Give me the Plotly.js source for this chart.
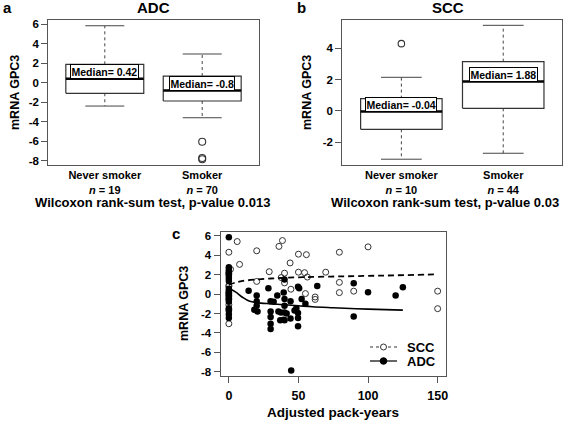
<!DOCTYPE html>
<html><head><meta charset="utf-8">
<script src="https://cdn.plot.ly/plotly-3.0.1.min.js"></script>
<style>html,body{margin:0;padding:0;background:#fff}#chart{width:565px;height:421px}</style>
</head><body><div id="chart"></div>
<script>
// ---------- Data ----------
const categories = ['Never smoker', 'Smoker'];
const adcN = [19, 70];
const sccN = [10, 44];
// Panel a: ADC box statistics
const adcLower = [-2.39, -3.59];
const adcQ1 = [-1.08, -1.87];
const adcMedian = [0.42, -0.8];
const adcQ3 = [1.89, 0.69];
const adcUpper = [5.85, 2.95];
const adcOutlierGroup = [2, 2, 2];
const adcOutlierValue = [-6.05, -7.72, -7.85];
// Panel b: SCC box statistics
const sccLower = [-3.08, -2.7];
const sccQ1 = [-1.17, 0.17];
const sccMedian = [-0.04, 1.88];
const sccQ3 = [0.79, 3.15];
const sccUpper = [2.15, 5.47];
const sccOutlierGroup = [1];
const sccOutlierValue = [4.3];
// Tick labels
const adcTicks = [-8, -6, -4, -2, 0, 2, 4, 6];
const sccTicks = [-2, 0, 2, 4];
const packTicks = [0, 50, 100, 150];
// Panel c: scatter of expression vs adjusted pack-years
const sccPackYears = [0, 0, 0, 0, 0, 0, 0, 0, 0, 0,
  1.2, 6, 7.7, 20, 20, 29, 36, 38.5, 37.6, 40, 40, 44, 44.6, 50, 50, 54.4, 55.7, 56.4, 55,
  62, 62, 69.6, 79.4, 79.4, 79.4, 89.7, 100, 150, 150];
const sccExpr = [4.3, 2.15, 0.9, 0.79, 0.1, -0.18, -0.5, -1.1, -1.6, -3.05,
  2.55, 5.4, 3.05, 4.45, 1.3, 2.3, 4.9, 5.5, 1.7, 2.15, 1.15, 3.2, 0.5, 4.1, 2.25, 2.2, 4.05, 1.75, 0.05,
  -0.3, -0.55, 2.25, 4.3, 1.2, 0.15, 0.3, 4.85, 0.3, -1.5];
const adcPackYears = [0, 0, 0, 0, 0, 0, 0, 0, 0, 0, 0, 0, 0, 0, 0, 0, 0, 0, 0,
  14.2, 20, 20, 20, 18.3, 20.6, 28.4, 30, 32.2, 30, 30, 30, 30, 34.8, 35.6, 37.4, 36.9, 39.4, 39.4,
  40, 40, 40, 40, 40, 41.5, 44.3, 44.3, 44.8, 47.2, 48.5, 49.7, 50.5, 49.7, 49.7, 49.7, 52.3, 55,
  63.5, 89.7, 89.7, 100, 119.8, 125];
const adcExpr = [5.85, 2.75, 2.5, 2.3, 2.05, 1.85, 1.6, 1.35, 0.55, 0.35, 0.15, -0.05, -0.3, -0.55, -0.8, -1.45, -1.75, -2.1, -2.45,
  0.33, -0.15, -0.75, -1.2, -1.6, -1.8, 0.6, -0.75, -0.8, -1.8, -2.35, -3.05, -3.6, -0.15, -1.8, -1.9, -2.7, -2.65, 0.15,
  1.5, -0.5, -1.2, -1.9, -2.7, -2.0, -0.75, -2.5, -7.85, -1.7, -1.45, 0.75, 0.6, -1.95, -2.45, -3.3, -0.5, -1.0,
  0.82, 1.1, -2.3, 0.2, -0.15, 0.7];
// Smoothed trend lines
const sccTrendX = [0, 5, 10, 20, 30, 40, 50, 60, 80, 100, 120, 150];
const sccTrendY = [0.95, 1.2, 1.35, 1.5, 1.6, 1.68, 1.72, 1.76, 1.82, 1.87, 1.93, 2.03];
const adcTrendX = [0, 5, 10, 15, 20, 30, 40, 50, 60, 75, 100, 125];
const adcTrendY = [0.6, 0.2, -0.35, -0.75, -0.88, -1.0, -1.1, -1.2, -1.3, -1.4, -1.55, -1.65];
const legendNames = ['SCC', 'ADC'];

// ---------- Helpers ----------
const FONT = 'Liberation Sans, Arial, Helvetica, sans-serif';
const W = 565, H = 421;
const px = v => v / W, py = v => 1 - v / H;
const bold = v => '<b>' + v + '</b>';

function boxTraces(xa, ya, lower, q1, med, q3, upper) {
  const tr = [];
  const hw = 0.4, sw = 0.2;
  for (let i = 0; i < med.length; i++) {
    const c = i + 1;
    const base = {xaxis: xa, yaxis: ya, mode: 'lines', showlegend: false, hoverinfo: 'skip'};
    tr.push(Object.assign({}, base, {x: [c, c, null, c, c], y: [q3[i], upper[i], null, q1[i], lower[i]],
      line: {color: '#444', width: 1, dash: '3px,3px'}}));
    tr.push(Object.assign({}, base, {x: [c - sw, c + sw, null, c - sw, c + sw], y: [upper[i], upper[i], null, lower[i], lower[i]],
      line: {color: '#444', width: 1}}));
    tr.push(Object.assign({}, base, {x: [c - hw, c + hw, c + hw, c - hw, c - hw], y: [q1[i], q1[i], q3[i], q3[i], q1[i]],
      line: {color: '#333', width: 1.2}}));
    tr.push(Object.assign({}, base, {x: [c - hw, c + hw], y: [med[i], med[i]], line: {color: '#000', width: 2.5}}));
  }
  return tr;
}

const traces = [];
traces.push(...boxTraces('x', 'y', adcLower, adcQ1, adcMedian, adcQ3, adcUpper));
traces.push({x: adcOutlierGroup, y: adcOutlierValue, xaxis: 'x', yaxis: 'y', mode: 'markers', showlegend: false,
  marker: {symbol: 'circle-open', size: 7, color: '#333', line: {width: 1.1}}});
traces.push(...boxTraces('x2', 'y2', sccLower, sccQ1, sccMedian, sccQ3, sccUpper));
traces.push({x: sccOutlierGroup, y: sccOutlierValue, xaxis: 'x2', yaxis: 'y2', mode: 'markers', showlegend: false,
  marker: {symbol: 'circle-open', size: 6.5, color: '#333', line: {width: 1.1}}});

traces.push({x: sccPackYears, y: sccExpr, xaxis: 'x3', yaxis: 'y3', mode: 'markers', name: 'SCC', showlegend: false,
  marker: {symbol: 'circle-open', size: 6, color: '#333', line: {width: 1}}});
traces.push({x: adcPackYears, y: adcExpr, xaxis: 'x3', yaxis: 'y3', mode: 'markers', name: 'ADC', showlegend: false,
  marker: {symbol: 'circle', size: 6.5, color: '#000'}});
traces.push({x: sccTrendX, y: sccTrendY, xaxis: 'x3', yaxis: 'y3', mode: 'lines', showlegend: false,
  line: {color: '#000', width: 1.8, dash: '6px,4px', shape: 'spline'}});
traces.push({x: adcTrendX, y: adcTrendY, xaxis: 'x3', yaxis: 'y3', mode: 'lines', showlegend: false,
  line: {color: '#000', width: 1.6, shape: 'spline'}});

const tickFont = {family: FONT, size: 11.5, color: '#000'};
const frame = {showline: true, mirror: true, linecolor: '#555', linewidth: 1, showgrid: false, zeroline: false, fixedrange: true};
const catText = (n) => categories.map((c, i) => bold(c) + '<br><b><i>n</i> = ' + n[i] + '</b>');

const layout = {
  width: W, height: H, margin: {l: 0, r: 0, t: 0, b: 0},
  paper_bgcolor: '#fff', plot_bgcolor: '#fff', showlegend: false,
  font: {family: FONT, color: '#000'},
  xaxis: Object.assign({}, frame, {domain: [px(48.3), px(258.7)], range: [0.42, 2.58], tickvals: [1, 2], ticktext: catText(adcN),
    ticks: '', tickfont: {family: FONT, size: 11, color: '#000'}, anchor: 'y'}),
  yaxis: Object.assign({}, frame, {domain: [py(165), py(20)], range: [-8.44, 6.44], tickvals: adcTicks, ticktext: adcTicks.map(bold),
    ticks: 'outside', ticklen: 6, tickcolor: '#555', tickfont: tickFont, anchor: 'x'}),
  xaxis2: Object.assign({}, frame, {domain: [px(342.3), px(562.3)], range: [0.42, 2.58], tickvals: [1, 2], ticktext: catText(sccN),
    ticks: '', tickfont: {family: FONT, size: 11, color: '#000'}, anchor: 'y2'}),
  yaxis2: Object.assign({}, frame, {domain: [py(165), py(20)], range: [-3.45, 5.81], tickvals: sccTicks, ticktext: sccTicks.map(bold),
    ticks: 'outside', ticklen: 6, tickcolor: '#555', tickfont: tickFont, anchor: 'x2'}),
  xaxis3: Object.assign({}, frame, {domain: [px(220.5), px(446)], range: [-6, 156], tickvals: packTicks, ticktext: packTicks.map(bold),
    ticks: 'outside', ticklen: 6, tickcolor: '#555', ticklabelstandoff: 2, tickfont: {family: FONT, size: 12.5, color: '#000'}, anchor: 'y3'}),
  yaxis3: Object.assign({}, frame, {domain: [py(376), py(232)], range: [-8.42, 6.38], tickvals: adcTicks, ticktext: adcTicks.map(bold),
    ticks: 'outside', ticklen: 6, tickcolor: '#555', tickfont: tickFont, anchor: 'x3'}),
  annotations: [],
  shapes: []
};

function ann(text, x, y, opts) {
  layout.annotations.push(Object.assign({text: bold(text), x: px(x), y: py(y), xref: 'paper', yref: 'paper', showarrow: false,
    xanchor: 'center', yanchor: 'middle', font: {family: FONT, size: 12, color: '#000'}}, opts || {}));
}
ann('a', 7, 8, {font: {family: FONT, size: 15}});
ann('ADC', 153.5, 8, {font: {family: FONT, size: 15}});
ann('b', 301, 8, {font: {family: FONT, size: 15}});
ann('SCC', 448, 8, {font: {family: FONT, size: 15}});
ann('c', 176, 234, {font: {family: FONT, size: 15}});
ann('mRNA GPC3', 15, 93, {textangle: -90, font: {family: FONT, size: 12.5}});
ann('mRNA GPC3', 307, 93, {textangle: -90, font: {family: FONT, size: 12.5}});
ann('mRNA GPC3', 184, 304, {textangle: -90, font: {family: FONT, size: 12.5}});
ann('Wilcoxon rank-sum test, p-value 0.013', 152.7, 202, {font: {family: FONT, size: 13}});
ann('Wilcoxon rank-sum test, p-value 0.03', 445, 202, {font: {family: FONT, size: 13}});
ann('Adjusted pack-years', 333, 412, {font: {family: FONT, size: 13.5}});

// Legend for panel c (drawn manually to match compact spacing)
const legRows = [347, 361];
legendNames.forEach((name, i) => {
  const yy = py(legRows[i]);
  layout.shapes.push({type: 'line', xref: 'paper', yref: 'paper', x0: px(370), x1: px(397), y0: yy, y1: yy,
    line: {color: i === 0 ? '#333' : '#000', width: 1.2, dash: i === 0 ? '3px,3px' : 'solid'}});
  const r = i === 0 ? 3 : 3.3;
  layout.shapes.push({type: 'circle', xref: 'paper', yref: 'paper', x0: px(383.5 - r), x1: px(383.5 + r),
    y0: py(legRows[i] + r), y1: py(legRows[i] - r), fillcolor: i === 0 ? '#fff' : '#000',
    line: {color: i === 0 ? '#333' : '#000', width: 1}});
  ann(name, 405, legRows[i], {xanchor: 'left', font: {family: FONT, size: 13}});
});

// Median labels in data coordinates
function medLabel(xref, yref, c, m) {
  layout.annotations.push({text: bold('Median= ' + m), x: c, y: m, xref: xref, yref: yref, showarrow: false,
    xanchor: 'center', yanchor: 'bottom', bgcolor: '#fff', bordercolor: '#000', borderwidth: 1, borderpad: 0.5,
    font: {family: FONT, size: 10.5, color: '#000'}});
}
adcMedian.forEach((m, i) => medLabel('x', 'y', i + 1, m));
sccMedian.forEach((m, i) => medLabel('x2', 'y2', i + 1, m));

Plotly.newPlot('chart', traces, layout, {staticPlot: true, displayModeBar: false});
</script></body></html>
